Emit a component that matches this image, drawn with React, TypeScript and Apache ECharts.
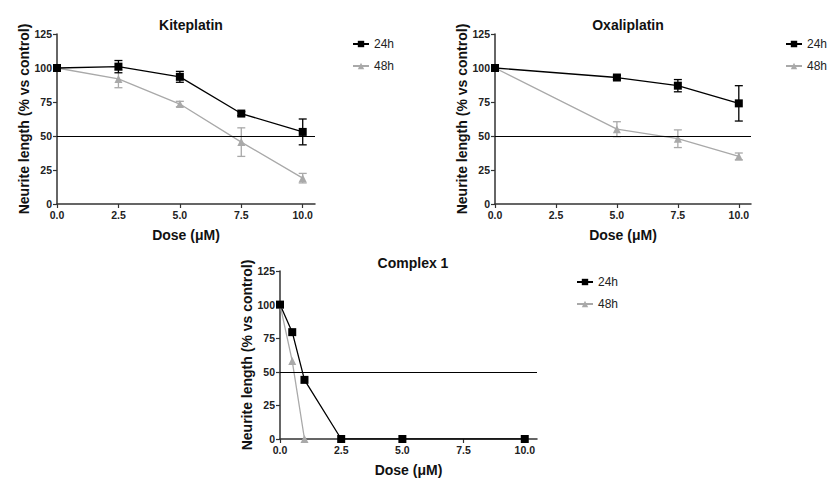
import React, { useEffect, useRef } from "react";
import * as echarts from "echarts";

const tickValues = [0, 2.5, 5, 7.5, 10];
const yTicks = [0, 25, 50, 75, 100, 125];

const kiteDose = [0, 2.5, 5, 7.5, 10];
const kite24 = [100, 101, 93.5, 66.5, 53];
const kite24Err = [0, 4.5, 4, 1.5, 9.5];
const kite48 = [100, 92, 73.5, 45.5, 19];
const kite48Err = [0, 6.5, 2, 10.5, 3.5];

const oxaDose = [0, 5, 7.5, 10];
const oxa24 = [100, 93, 87, 74];
const oxa24Err = [0, 1.5, 4.5, 13];
const oxa48 = [100, 55, 48, 35];
const oxa48Err = [0, 5.5, 6.5, 2.5];

const c1Dose24 = [0, 0.5, 1, 2.5, 5, 10];
const c124 = [100, 79.5, 44, 0, 0, 0];
const c1Dose48 = [0, 0.5, 1];
const c148 = [100, 58, 0];

const panelTitles = ["Kiteplatin", "Oxaliplatin", "Complex 1"];
const legendNames = ["24h", "48h"];

const BLACK = "#000000";
const GREY = "#a9a9a9";
const FONT = "'Liberation Sans', Arial, Helvetica, sans-serif";

function pairs(xs: number[], ys: number[]) {
  return xs.map((x, i) => [x, ys[i]]);
}
function triples(xs: number[], ys: number[], es: number[]) {
  return xs.map((x, i) => [x, ys[i], es[i]]).filter((d) => d[2] > 0);
}

function errorSeries(idx: number, data: number[][], color: string) {
  return {
    type: "custom",
    name: "err" + idx + color,
    xAxisIndex: idx,
    yAxisIndex: idx,
    z: 1,
    silent: true,
    data,
    renderItem: (params: any, api: any) => {
      const x = api.value(0);
      const y = api.value(1);
      const e = api.value(2);
      const top = api.coord([x, y + e]);
      const bot = api.coord([x, y - e]);
      const w = 4;
      const st = { stroke: color, lineWidth: 1.3 };
      return {
        type: "group",
        children: [
          { type: "line", shape: { x1: top[0], y1: top[1], x2: bot[0], y2: bot[1] }, style: st },
          { type: "line", shape: { x1: top[0] - w, y1: top[1], x2: top[0] + w, y2: top[1] }, style: st },
          { type: "line", shape: { x1: bot[0] - w, y1: bot[1], x2: bot[0] + w, y2: bot[1] }, style: st },
        ],
      };
    },
  };
}

function lineSeries(idx: number, name: string, data: number[][], color: string, symbol: string, withMark: boolean) {
  const s: any = {
    type: "line",
    name,
    xAxisIndex: idx,
    yAxisIndex: idx,
    data,
    symbol,
    symbolSize: 8,
    showAllSymbol: true,
    z: 3,
    itemStyle: { color },
    lineStyle: { color, width: 1.3 },
  };
  if (withMark) {
    s.markLine = {
      silent: true,
      symbol: "none",
      label: { show: false },
      lineStyle: { color: "#000", width: 1.2, type: "solid" },
      data: [{ yAxis: 50 }],
    };
  }
  return s;
}

const grids = [
  { left: 57, top: 34, width: 258, height: 170 },
  { left: 495, top: 34, width: 256, height: 170 },
  { left: 280, top: 271, width: 257, height: 171 },
];

const titlePos = [
  { left: 186, top: 13 },
  { left: 623, top: 13 },
  { left: 408, top: 251 },
];

const legendPos = [
  { left: 347, top: 33 },
  { left: 780, top: 33 },
  { left: 571, top: 271 },
];

export default function App() {
  const ref = useRef<HTMLDivElement>(null);
  useEffect(() => {
    document.body.style.margin = "0";
    if (!ref.current) return;
    const chart = echarts.init(ref.current, undefined, { renderer: "svg" });

    const xAxes = grids.map((_, i) => ({
      type: "value",
      gridIndex: i,
      min: 0,
      max: 10.5,
      name: "Dose (μM)",
      nameLocation: "middle",
      nameGap: 24,
      nameTextStyle: { fontFamily: FONT, fontWeight: "bold", fontSize: 14, color: "#111" },
      axisLine: { show: true, lineStyle: { color: "#333", width: 1.5 } },
      axisTick: { show: true, length: 4, customValues: tickValues, lineStyle: { color: "#333", width: 1.2 } },
      axisLabel: {
        customValues: tickValues,
        formatter: (v: number) => v.toFixed(1),
        fontFamily: FONT,
        fontWeight: "bold",
        fontSize: 10.5,
        color: "#222",
        margin: 5,
      },
      splitLine: { show: false },
    }));

    const yAxes = grids.map((_, i) => ({
      type: "value",
      gridIndex: i,
      min: 0,
      max: 125,
      interval: 25,
      name: "Neurite length (% vs control)",
      nameLocation: "middle",
      nameGap: 26,
      nameRotate: 90,
      nameTextStyle: { fontFamily: FONT, fontWeight: "bold", fontSize: 14, color: "#111" },
      axisLine: { show: true, lineStyle: { color: "#333", width: 1.5 } },
      axisTick: { show: true, length: 4, customValues: yTicks, lineStyle: { color: "#333", width: 1.2 } },
      axisLabel: {
        customValues: yTicks,
        fontFamily: FONT,
        fontWeight: "bold",
        fontSize: 10.5,
        color: "#222",
        margin: 5,
      },
      splitLine: { show: false },
    }));

    const series: any[] = [
      errorSeries(0, triples(kiteDose, kite48, kite48Err), GREY),
      errorSeries(0, triples(kiteDose, kite24, kite24Err), BLACK),
      lineSeries(0, "48h", pairs(kiteDose, kite48), GREY, "triangle", false),
      lineSeries(0, "24h", pairs(kiteDose, kite24), BLACK, "rect", true),

      errorSeries(1, triples(oxaDose, oxa48, oxa48Err), GREY),
      errorSeries(1, triples(oxaDose, oxa24, oxa24Err), BLACK),
      lineSeries(1, "48h", pairs(oxaDose, oxa48), GREY, "triangle", false),
      lineSeries(1, "24h", pairs(oxaDose, oxa24), BLACK, "rect", true),

      lineSeries(2, "48h", pairs(c1Dose48, c148), GREY, "triangle", false),
      lineSeries(2, "24h", pairs(c1Dose24, c124), BLACK, "rect", true),
    ];

    chart.setOption({
      animation: false,
      backgroundColor: "#ffffff",
      title: panelTitles.map((t, i) => ({
        text: t,
        left: titlePos[i].left,
        top: titlePos[i].top,
        textAlign: "center",
        textStyle: { fontFamily: FONT, fontWeight: "bold", fontSize: 14, color: "#111" },
      })),
      legend: legendPos.map((p) => ({
        data: legendNames,
        orient: "vertical",
        left: p.left,
        top: p.top,
        itemWidth: 16,
        itemHeight: 8,
        itemGap: 10,
        selectedMode: false,
        textStyle: { fontFamily: FONT, fontSize: 12, color: "#222" },
      })),
      grid: grids.map((g) => ({ ...g, containLabel: false })),
      xAxis: xAxes,
      yAxis: yAxes,
      series,
    });
    return () => chart.dispose();
  }, []);
  return <div ref={ref} style={{ width: 830, height: 478 }} />;
}
